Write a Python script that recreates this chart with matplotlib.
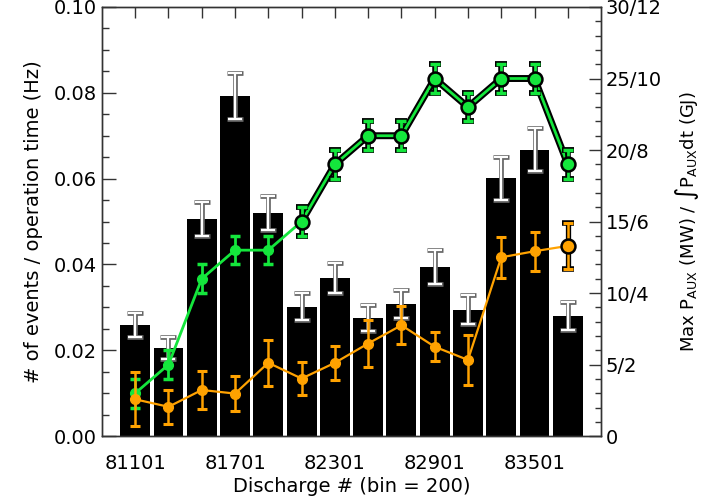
import numpy as np
import matplotlib.pyplot as plt
import matplotlib.patheffects as pe
from matplotlib.ticker import FixedLocator, MultipleLocator

# discharge bins (bin = 200)
discharge = [81101, 81301, 81501, 81701, 81901, 82101, 82301,
             82501, 82701, 82901, 83101, 83301, 83501, 83701]

# event rate (Hz) and its error
rate = [0.0260, 0.0205, 0.0506, 0.0793, 0.0520, 0.0302, 0.0368,
        0.0275, 0.0308, 0.0394, 0.0295, 0.0601, 0.0667, 0.0280]
rate_err = [0.0028, 0.0025, 0.0040, 0.0054, 0.0040, 0.0032, 0.0035,
            0.0031, 0.0033, 0.0040, 0.0033, 0.0050, 0.0050, 0.0032]

# max auxiliary heating power (MW)
p_aux = [3.0, 5.0, 11.0, 13.0, 13.0, 15.0, 19.0,
         21.0, 21.0, 25.0, 23.0, 25.0, 25.0, 19.0]
p_aux_err = [1.0] * 14

# integrated auxiliary heating energy (GJ)
e_aux = [1.03, 0.82, 1.29, 1.19, 2.05, 1.61, 2.05,
         2.59, 3.10, 2.50, 2.13, 5.00, 5.17, 5.32]
e_aux_err = [0.75, 0.47, 0.53, 0.49, 0.65, 0.45, 0.47,
             0.66, 0.53, 0.40, 0.69, 0.58, 0.55, 0.65]

right_ticks = [0, 5, 10, 15, 20, 25, 30]
right_labels = ["0", "5/2", "10/4", "15/6", "20/8", "25/10", "30/12"]

green = "#14e63c"
orange = "#ffa200"
spine_c = "#333333"
fs = 14

fig = plt.figure(figsize=(7.03, 4.99), dpi=100)
ax = fig.add_axes([0.145, 0.126, 0.710, 0.860])
ax2 = ax.twinx()
ax3 = ax.twinx()

x = np.array(discharge)

# bars with white error bars (gray outline underneath)
ax.bar(x, rate, width=180, color="black", zorder=1)
ax.errorbar(x, rate, yerr=rate_err, fmt="none", ecolor="#666666",
            elinewidth=3.4, capsize=6, capthick=3.4, zorder=2)
ax.errorbar(x, rate, yerr=rate_err, fmt="none", ecolor="white",
            elinewidth=1.6, capsize=5, capthick=1.6, zorder=3)

ax.set_xlim(80901, 83901)
ax.set_ylim(0, 0.10)
ax.xaxis.set_major_locator(FixedLocator([81101, 81701, 82301, 82901, 83501]))
ax.xaxis.set_minor_locator(FixedLocator(discharge))
ax.yaxis.set_major_locator(MultipleLocator(0.02))
ax.yaxis.set_minor_locator(MultipleLocator(0.005))
ax.yaxis.set_major_formatter(plt.FormatStrFormatter("%.2f"))
ax.tick_params(axis="x", which="both", direction="in", bottom=False, top=True,
               length=8, width=1, color=spine_c, labelsize=fs, pad=13)
ax.tick_params(axis="y", which="major", direction="in", length=10, width=1,
               color=spine_c, labelsize=fs, right=False)
ax.tick_params(axis="y", which="minor", direction="in", length=5, width=1,
               color=spine_c, right=False)
ax.set_xlabel("Discharge # (bin = 200)", fontsize=fs, labelpad=3)
ax.set_ylabel("# of events / operation time (Hz)", fontsize=fs, labelpad=8)

# green: max P_AUX (MW)
out = [pe.Stroke(linewidth=5, foreground="black"), pe.Normal()]
ax2.plot(x[:6], p_aux[:6], color=green, lw=2, zorder=2)
ax2.plot(x[5:], p_aux[5:], color=green, lw=2, zorder=2, path_effects=out)
ax2.errorbar(x[5:], p_aux[5:], yerr=p_aux_err[5:], fmt="none",
             ecolor="black", elinewidth=4, capsize=4.3, capthick=4.2, zorder=3)
ax2.errorbar(x, p_aux, yerr=p_aux_err, fmt="none",
             ecolor=green, elinewidth=2, capsize=3.5, capthick=2.5, zorder=3)
ax2.plot(x[:5], p_aux[:5], "o", color=green, ms=7, mec=green, zorder=4)
ax2.plot(x[5:], p_aux[5:], "o", color=green, ms=10, mec="black", mew=1.8, zorder=4)

ax2.set_ylim(0, 30)
ax2.set_yticks(right_ticks)
ax2.set_yticklabels(right_labels)
ax2.yaxis.set_minor_locator(MultipleLocator(1))
ax2.tick_params(axis="y", which="major", direction="in", length=9, width=1,
                color=spine_c, labelsize=fs)
ax2.tick_params(axis="y", which="minor", direction="in", length=4, width=1,
                color=spine_c)
ax2.set_ylabel(r"Max P$_{\rm AUX}$ (MW) / $\int$P$_{\rm AUX}$dt (GJ)",
               fontsize=fs - 1, labelpad=8)

# orange: integrated P_AUX (GJ)
ax3.plot(x, e_aux, color=orange, lw=1.6, zorder=2)
ax3.errorbar(x[13:], e_aux[13:], yerr=e_aux_err[13:], fmt="none",
             ecolor="black", elinewidth=3.8, capsize=4.3, capthick=4, zorder=3)
ax3.errorbar(x, e_aux, yerr=e_aux_err, fmt="none", ecolor=orange,
             elinewidth=1.8, capsize=3.5, capthick=2.2, zorder=3)
ax3.plot(x[:13], e_aux[:13], "o", color=orange, ms=7, mec=orange, zorder=4)
ax3.plot(x[13:], e_aux[13:], "o", color=orange, ms=10, mec="black", mew=1.8, zorder=4)
ax3.set_ylim(0, 12)
ax3.axis("off")

for a in (ax, ax2):
    for s in a.spines.values():
        s.set_color(spine_c)
        s.set_linewidth(1)

fig.savefig("out.png", dpi=100)
